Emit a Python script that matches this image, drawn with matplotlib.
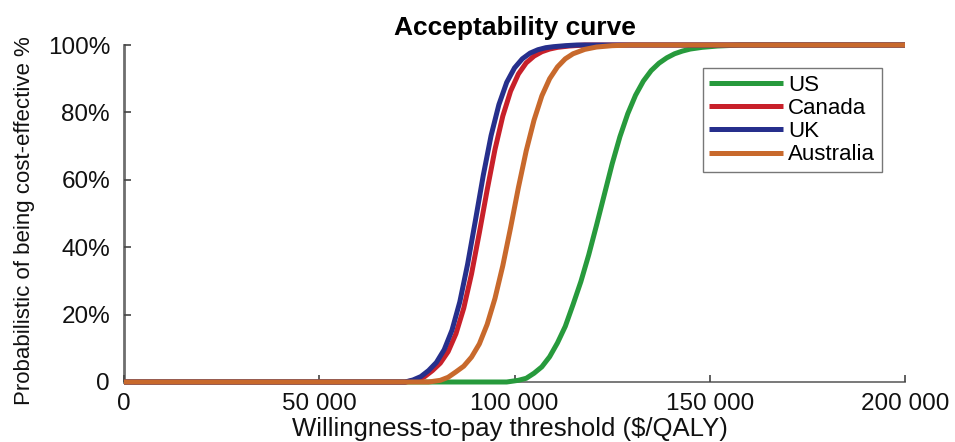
import matplotlib
matplotlib.use("Agg")
import matplotlib.pyplot as plt

plt.rcParams['font.family'] = ['Liberation Sans', 'DejaVu Sans']

# ---- data ----
series_names = ["US", "Canada", "UK", "Australia"]

us_x = [0, 98000, 101000, 103000, 105000, 107000, 109000, 111000, 113000, 115000,
        117000, 119000, 121000, 123000, 125000, 127000, 129000, 131000, 133000,
        135000, 137000, 139000, 141000, 143000, 145000, 148000, 152000, 158000, 200000]
us_y = [0, 0, 0.5, 1.1, 2.6, 4.5, 7.5, 11.6, 16.5, 23.0, 29.8, 37.7, 46.5, 55.6,
        64.7, 72.8, 79.6, 85.1, 89.3, 92.4, 94.6, 96.2, 97.4, 98.2, 98.8, 99.3,
        99.7, 100, 100]

canada_x = [0, 72000, 75000, 77000, 79000, 81000, 83000, 85000, 87000, 89000, 91000,
            93000, 95000, 97000, 99000, 101000, 103000, 105000, 107000, 109000,
            111000, 114000, 118000, 200000]
canada_y = [0, 0, 0.6, 1.6, 3.4, 5.6, 9.0, 14.3, 21.9, 32.1, 44.3, 57.0, 69.0, 78.9,
            86.3, 91.4, 94.7, 96.7, 98.0, 98.8, 99.3, 99.7, 100, 100]

uk_x = [0, 72000, 74000, 76000, 78000, 80000, 82000, 84000, 86000, 88000, 90000,
        92000, 94000, 96000, 98000, 100000, 102000, 104000, 106000, 108000, 110000,
        113000, 116000, 200000]
uk_y = [0, 0, 0.6, 1.6, 3.4, 5.8, 9.6, 15.4, 23.8, 35.0, 48.0, 61.3, 73.1, 82.3,
        88.9, 93.2, 95.9, 97.6, 98.6, 99.2, 99.5, 99.8, 100, 100]

aus_x = [0, 78000, 81000, 83000, 85000, 87000, 89000, 91000, 93000, 95000, 97000,
         99000, 101000, 103000, 105000, 107000, 109000, 111000, 113000, 115000,
         118000, 121000, 125000, 130000, 200000]
aus_y = [0, 0, 0.5, 1.4, 3.0, 4.7, 7.4, 11.3, 17.1, 24.8, 34.5, 45.8, 57.7, 68.6,
         77.7, 84.9, 90.0, 93.5, 95.9, 97.4, 98.7, 99.4, 99.8, 100, 100]

x_ticks = [0, 50000, 100000, 150000, 200000]
x_tick_labels = ["0", "50 000", "100 000", "150 000", "200 000"]
y_ticks = [0, 20, 40, 60, 80, 100]
y_tick_labels = ["0", "20%", "40%", "60%", "80%", "100%"]

colors = {"US": "#279a3c", "Canada": "#c8202a", "UK": "#262f8c", "Australia": "#c8692c"}

# ---- figure ----
W, H = 955, 442
fig = plt.figure(figsize=(W / 100, H / 100), dpi=100)
ax = fig.add_axes([124 / W, 1 - 382 / H, (905 - 124) / W, (382 - 45) / H])

data = {"US": (us_x, us_y), "Canada": (canada_x, canada_y),
        "UK": (uk_x, uk_y), "Australia": (aus_x, aus_y)}
for name in series_names:
    xs, ys = data[name]
    ax.plot(xs, ys, color=colors[name], lw=3.6, label=name,
            solid_capstyle='butt', solid_joinstyle='round', clip_on=False)

ax.set_xlim(0, 200000)
ax.set_ylim(0, 100)
ax.set_xticks(x_ticks)
ax.set_xticklabels(x_tick_labels)
ax.set_yticks(y_ticks)
ax.set_yticklabels(y_tick_labels)

for s in ["top", "right"]:
    ax.spines[s].set_visible(False)
ax.spines["left"].set_color("#6e6e6e")
ax.spines["left"].set_linewidth(2.0)
ax.spines["bottom"].set_color("#6e6e6e")
ax.spines["bottom"].set_linewidth(1.3)
ax.spines["left"].set_zorder(0.5)
ax.spines["bottom"].set_zorder(0.5)

ax.tick_params(axis="both", direction="in", length=5, width=1.2, color="#444444",
               labelsize=17.5, labelcolor="#111111")
ax.tick_params(axis="x", pad=8)
ax.tick_params(axis="y", pad=10)

ax.set_title("Acceptability curve", fontsize=19, fontweight="bold", pad=7)
fig.text((124 + 905) / 2 / W - 0.005, 0.003, "Willingness-to-pay threshold ($/QALY)",
         ha="center", va="bottom", fontsize=18.5, color="#111111")
fig.text(25 / W, 1 - 221 / H, "Probabilistic of being cost-effective %", rotation=90,
         ha="center", va="center", fontsize=16, color="#111111")

leg = ax.legend(loc="upper right", bbox_to_anchor=((882 - 124) / 781, (382 - 68) / 337),
                fontsize=16, frameon=True, fancybox=False, handlelength=3.3,
                handletextpad=0.25, labelspacing=0.1, borderpad=0.3,
                borderaxespad=0)
leg.get_frame().set_edgecolor("#555555")
leg.get_frame().set_linewidth(1.0)

fig.savefig("out.png", dpi=100)
